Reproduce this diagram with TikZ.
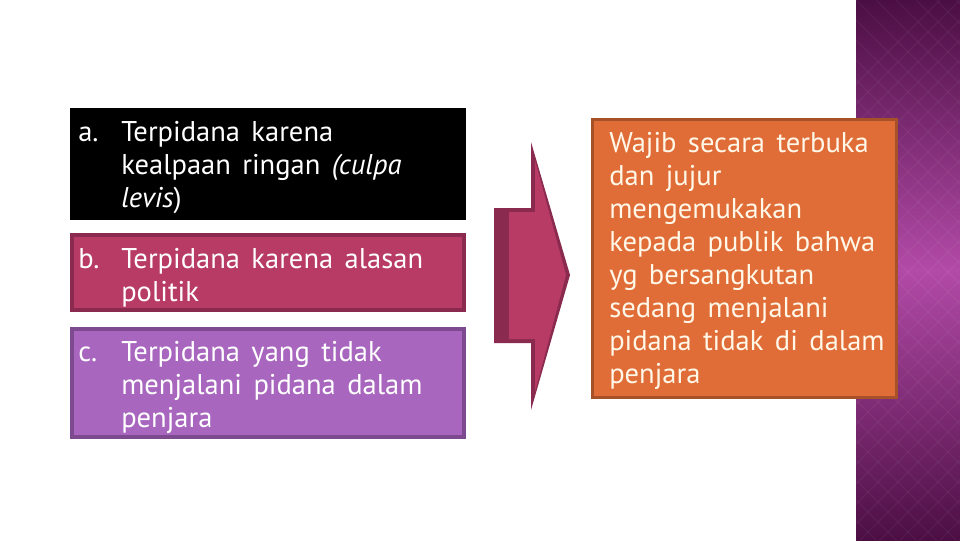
\documentclass[tikz,border=0pt]{standalone}
\usepackage{fontspec}
\setmainfont{PT Sans}
\usetikzlibrary{positioning}

\definecolor{boxred}{HTML}{B83B65}
\definecolor{boxreddark}{HTML}{8A2A4E}
\definecolor{boxlilac}{HTML}{A866BE}
\definecolor{boxlilacdark}{HTML}{7D4A8F}
\definecolor{boxorange}{HTML}{E06D37}
\definecolor{boxorangedark}{HTML}{A65128}
\definecolor{cream}{HTML}{FFF7E8}
\definecolor{banddark}{HTML}{4B0E43}
\definecolor{bandlight}{HTML}{B24AA7}

\newcommand{\slidefont}{\fontsize{20.3}{23.4}\selectfont\spaceskip=0.4em}

\tikzset{
  listlabel/.style={anchor=base west, inner sep=0pt, text=white, font=\slidefont},
  listtext/.style={anchor=base west, inner sep=0pt, align=left, text=white, font=\slidefont},
  resulttext/.style={anchor=base west, inner sep=0pt, align=left, text=cream, font=\slidefont},
}

\begin{document}
\begin{tikzpicture}[x=0.025cm,y=-0.025cm]
        % Frame
        \useasboundingbox (0,0) rectangle (960,540);
        \fill[white] (0,0) rectangle (960,540);

        % Side band
        \shade[top color=banddark, bottom color=bandlight] (856,0) rectangle (960,271);
        \shade[top color=bandlight, bottom color=banddark] (856,270) rectangle (960,540);
        \begin{scope}
          \clip (856,0) rectangle (960,540);
          \foreach \k in {-560,-540,...,120} {
            \draw[white,opacity=.04,line width=1pt] (856+\k,0) -- ++(560,560);
            \draw[white,opacity=.04,line width=1pt] (1500+\k,0) -- ++(-560,560);
          }
        \end{scope}

        % Left boxes
        \fill[black] (70,108) rectangle (466,220);
        \draw[fill=boxred,draw=boxreddark,line width=0.1cm] (72,235) rectangle (464,310);
        \draw[fill=boxlilac,draw=boxlilacdark,line width=0.1cm] (72,329) rectangle (464,437);

        % Texts of the list (placed at the baseline of the last line)
        \node[listlabel] (laba) at (78,141) {a.};
        \node[listtext] (txta) at (121,207) {Terpidana karena\\kealpaan ringan \textit{(culpa}\\\textit{levis})};
        \node[listlabel] (labb) at (78,268) {b.};
        \node[listtext] (txtb) at (121,301) {Terpidana karena alasan\\politik};
        \node[listlabel] (labc) at (78,361) {c.};
        \node[listtext] (txtc) at (121,427) {Terpidana yang tidak\\menjalani pidana dalam\\penjara};

        % Arrow
        \fill[boxreddark] (494,208) -- (531,208) -- (531,142) -- (570,275) -- (531,410) -- (531,343) -- (494,343) -- cycle;
        \fill[boxred] (509,212) -- (535,212) -- (535,160) -- (566,275) -- (535,392) -- (535,339) -- (509,339) -- cycle;

        % Result box
        \draw[fill=boxorange,draw=boxorangedark,line width=0.075cm] (592,119) rectangle (896,397);
        \node[resulttext] (result) at (609,383) {Wajib secara terbuka\\dan jujur\\mengemukakan\\kepada publik bahwa\\yg bersangkutan\\sedang menjalani\\pidana tidak di dalam\\penjara};
\end{tikzpicture}
\end{document}
